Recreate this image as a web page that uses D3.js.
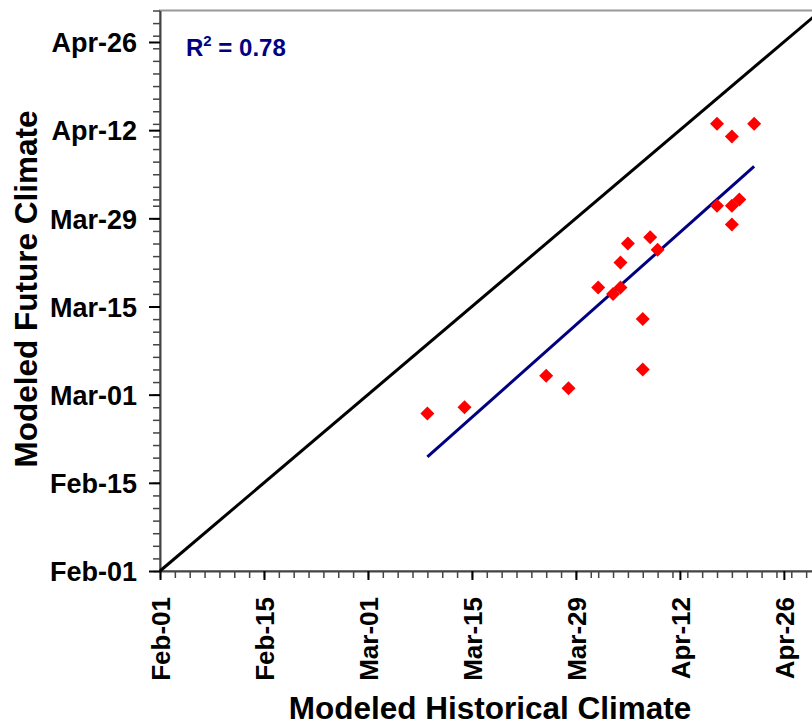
<!DOCTYPE html>
<html>
<head>
<meta charset="utf-8">
<script src="https://cdn.jsdelivr.net/npm/d3@7"></script>
<style>
  body { margin: 0; background: #fff; }
  svg { display: block; font-family: "Liberation Sans", Arial, sans-serif; font-weight: bold; }
</style>
</head>
<body>
<svg id="chart" width="812" height="726"></svg>
<script>
// onset dates, historical vs future run
const historical = ["Mar-09","Mar-14","Mar-25","Mar-28","Apr-01","Apr-03","Apr-04","Apr-04","Apr-05","Apr-08",
                    "Apr-09","Apr-07","Apr-07","Apr-17","Apr-19","Apr-22","Apr-17","Apr-19","Apr-20","Apr-19"];
const future     = ["Feb-26","Feb-27","Mar-04","Mar-02","Mar-18","Mar-17","Mar-18","Mar-22","Mar-25","Mar-26",
                    "Mar-24","Mar-13","Mar-05","Apr-13","Apr-11","Apr-13","Mar-31","Mar-31","Apr-01","Mar-28"];
const tickLabels = ["Feb-01","Feb-15","Mar-01","Mar-15","Mar-29","Apr-12","Apr-26"];
const axisEnd = "May-01";
const r2Label = "0.78";

const parse = d3.utcParse("%b-%d");
const fmt = d3.utcFormat("%b-%d");
const dayMs = 864e5;

const pts = historical.map((h, i) => ({x: parse(h), y: parse(future[i])}));
const start = parse(tickLabels[0]), end = parse(axisEnd);
const major = tickLabels.map(parse);
const minor = d3.utcDay.every(2).range(start, d3.utcDay.offset(end, 1));

const svg = d3.select("#chart");
const x = d3.scaleUtc().domain([start, end]).range([160, 821]);
const y = d3.scaleUtc().domain([start, end]).range([571, 10.5]);

// plot frame (right side falls outside the picture)
svg.append("rect")
    .attr("x", x.range()[0]).attr("y", y.range()[1])
    .attr("width", x.range()[1] - x.range()[0])
    .attr("height", y.range()[0] - y.range()[1])
    .attr("fill", "none").attr("stroke", "#999").attr("stroke-width", 2);

// minor ticks
svg.append("g").attr("transform", `translate(0,${y.range()[0]})`)
    .call(d3.axisBottom(x).tickValues(minor).tickSize(7).tickFormat(""))
    .call(g => g.selectAll("line").attr("stroke", "#444").attr("stroke-width", 1.5))
    .call(g => g.select(".domain").remove());
svg.append("g").attr("transform", `translate(${x.range()[0]},0)`)
    .call(d3.axisLeft(y).tickValues(minor).tickSize(7).tickFormat(""))
    .call(g => g.selectAll("line").attr("stroke", "#444").attr("stroke-width", 1.5))
    .call(g => g.select(".domain").remove());

// major ticks + labels
const xAxis = svg.append("g").attr("transform", `translate(0,${y.range()[0]})`)
    .call(d3.axisBottom(x).tickValues(major).tickSize(9).tickSizeOuter(0).tickFormat(fmt));
xAxis.select(".domain").attr("stroke", "#444").attr("stroke-width", 2);
xAxis.selectAll("line").attr("stroke", "#000").attr("stroke-width", 2);
xAxis.selectAll("text")
    .attr("font-size", 26).attr("fill", "#000")
    .attr("text-anchor", "end")
    .attr("transform", "rotate(-90)")
    .attr("x", -26).attr("y", 0).attr("dy", "0.36em");

const yAxis = svg.append("g").attr("transform", `translate(${x.range()[0]},0)`)
    .call(d3.axisLeft(y).tickValues(major).tickSize(11).tickSizeOuter(0).tickFormat(fmt));
yAxis.select(".domain").attr("stroke", "#444").attr("stroke-width", 2);
yAxis.selectAll("line").attr("stroke", "#000").attr("stroke-width", 2);
yAxis.selectAll("text")
    .attr("font-size", 27).attr("fill", "#000")
    .attr("x", -23).attr("dy", "0.36em");

// 1:1 line
svg.append("line")
    .attr("x1", x(start)).attr("y1", y(start))
    .attr("x2", x(end)).attr("y2", y(end))
    .attr("stroke", "#000").attr("stroke-width", 3);

// least squares fit, in days
const xs = pts.map(p => +p.x / dayMs), ys = pts.map(p => +p.y / dayMs);
const mx = d3.mean(xs), my = d3.mean(ys);
const slope = d3.sum(xs, (v, i) => (v - mx) * (ys[i] - my)) / d3.sum(xs, v => (v - mx) * (v - mx));
const icpt = my - slope * mx;
const [x0, x1] = d3.extent(xs);
svg.append("line")
    .attr("x1", x(x0 * dayMs)).attr("y1", y((icpt + slope * x0) * dayMs))
    .attr("x2", x(x1 * dayMs)).attr("y2", y((icpt + slope * x1) * dayMs))
    .attr("stroke", "#000080").attr("stroke-width", 3);

// diamonds
svg.append("g").selectAll("path")
    .data(pts).enter()
  .append("path")
    .attr("d", d3.symbol(d3.symbolSquare, 98))
    .attr("transform", d => `translate(${x(d.x)},${y(d.y)}) rotate(45)`)
    .attr("fill", "#ff0000");

// R^2 label
const r2 = svg.append("text")
    .attr("x", 186).attr("y", 56)
    .attr("font-size", 24).attr("fill", "#000080");
r2.append("tspan").text("R");
r2.append("tspan").attr("font-size", 15).attr("dy", -10).text("2");
r2.append("tspan").attr("dy", 10).text(" = " + r2Label);

// axis titles
svg.append("text")
    .attr("x", 490).attr("y", 719)
    .attr("text-anchor", "middle")
    .attr("font-size", 31.5)
    .text("Modeled Historical Climate");

svg.append("text")
    .attr("transform", "translate(37,289) rotate(-90)")
    .attr("text-anchor", "middle")
    .attr("font-size", 31.5)
    .text("Modeled Future Climate");
</script>
</body>
</html>
